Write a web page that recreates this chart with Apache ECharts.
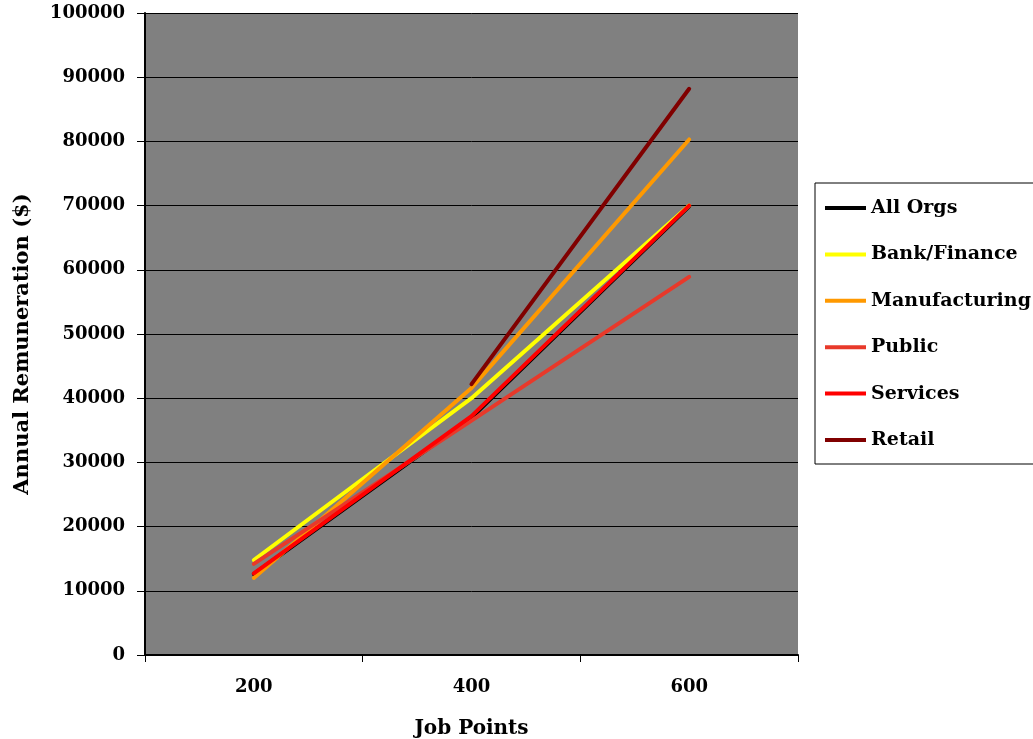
<!DOCTYPE html>
<html>
<head>
<meta charset="utf-8">
<script src="https://cdn.jsdelivr.net/npm/echarts@6/dist/echarts.min.js"></script>
<style>html,body{margin:0;padding:0;background:#fff;}#c{width:1033px;height:739px;}</style>
</head>
<body>
<div id="c"></div>
<script>
const categories = ['200', '400', '600'];
const seriesNames = ['All Orgs', 'Bank/Finance', 'Manufacturing', 'Public', 'Services', 'Retail'];
const allOrgs = [12600, 37000, 69900];
const bankFinance = [14800, 40000, 70000];
const manufacturing = [12000, 41600, 80300];
const publicSector = [14200, 36500, 58900];
const services = [12700, 37200, 70000];
const retail = [null, 42200, 88200];
const colors = ['#000000', '#FFFF00', '#FF9900', '#E8392A', '#FF0000', '#800000'];

const FONT = 'DejaVu Serif';
const dataSets = [allOrgs, bankFinance, manufacturing, publicSector, services, retail];

const chart = echarts.init(document.getElementById('c'), null, {renderer: 'canvas'});
chart.setOption({
  animation: false,
  backgroundColor: '#ffffff',
  grid: {left: 145, top: 13, right: 235, bottom: 84, show: true, backgroundColor: '#808080', borderWidth: 0,
    containLabel: false, outerBoundsMode: 'none'},
  legend: {
    orient: 'vertical', left: 815, top: 183,
    padding: [15, 60, 14, 10],
    borderColor: '#000', borderWidth: 1,
    icon: 'rect', itemWidth: 41, itemHeight: 4, itemGap: 26.4,
    textStyle: {fontFamily: FONT, fontWeight: 'bold', fontSize: 19, color: '#000', lineHeight: 20},
    data: seriesNames
  },
  xAxis: {
    type: 'category', data: categories, boundaryGap: true,
    name: 'Job Points', nameLocation: 'middle', nameGap: 64,
    nameTextStyle: {fontFamily: FONT, fontWeight: 'bold', fontSize: 20, color: '#000'},
    axisLine: {lineStyle: {color: '#000', width: 2}},
    axisTick: {show: true, length: 7, lineStyle: {color: '#000', width: 1}},
    axisLabel: {fontFamily: FONT, fontWeight: 'bold', fontSize: 18, color: '#000', margin: 23},
    splitLine: {show: false}
  },
  yAxis: {
    type: 'value', min: 0, max: 100000, interval: 10000,
    name: 'Annual Remuneration ($)', nameLocation: 'middle', nameGap: 112,
    nameTextStyle: {fontFamily: FONT, fontWeight: 'bold', fontSize: 21, color: '#000', padding: [0, 20, 0, 0]},
    axisLine: {show: true, lineStyle: {color: '#000', width: 2}},
    axisTick: {show: true, length: 8, lineStyle: {color: '#000', width: 1}},
    axisLabel: {fontFamily: FONT, fontWeight: 'bold', fontSize: 18, color: '#000', margin: 20,
      formatter: v => String(v)},
    splitLine: {show: true, lineStyle: {color: '#000', width: 1}}
  },
  series: seriesNames.map((n, i) => ({
    name: n, type: 'line', data: dataSets[i],
    showSymbol: false, symbol: 'none', connectNulls: false,
    lineStyle: {color: colors[i], width: 4, cap: 'round', join: 'round'},
    itemStyle: {color: colors[i]},
    z: 2 + i
  }))
});
</script>
</body>
</html>
